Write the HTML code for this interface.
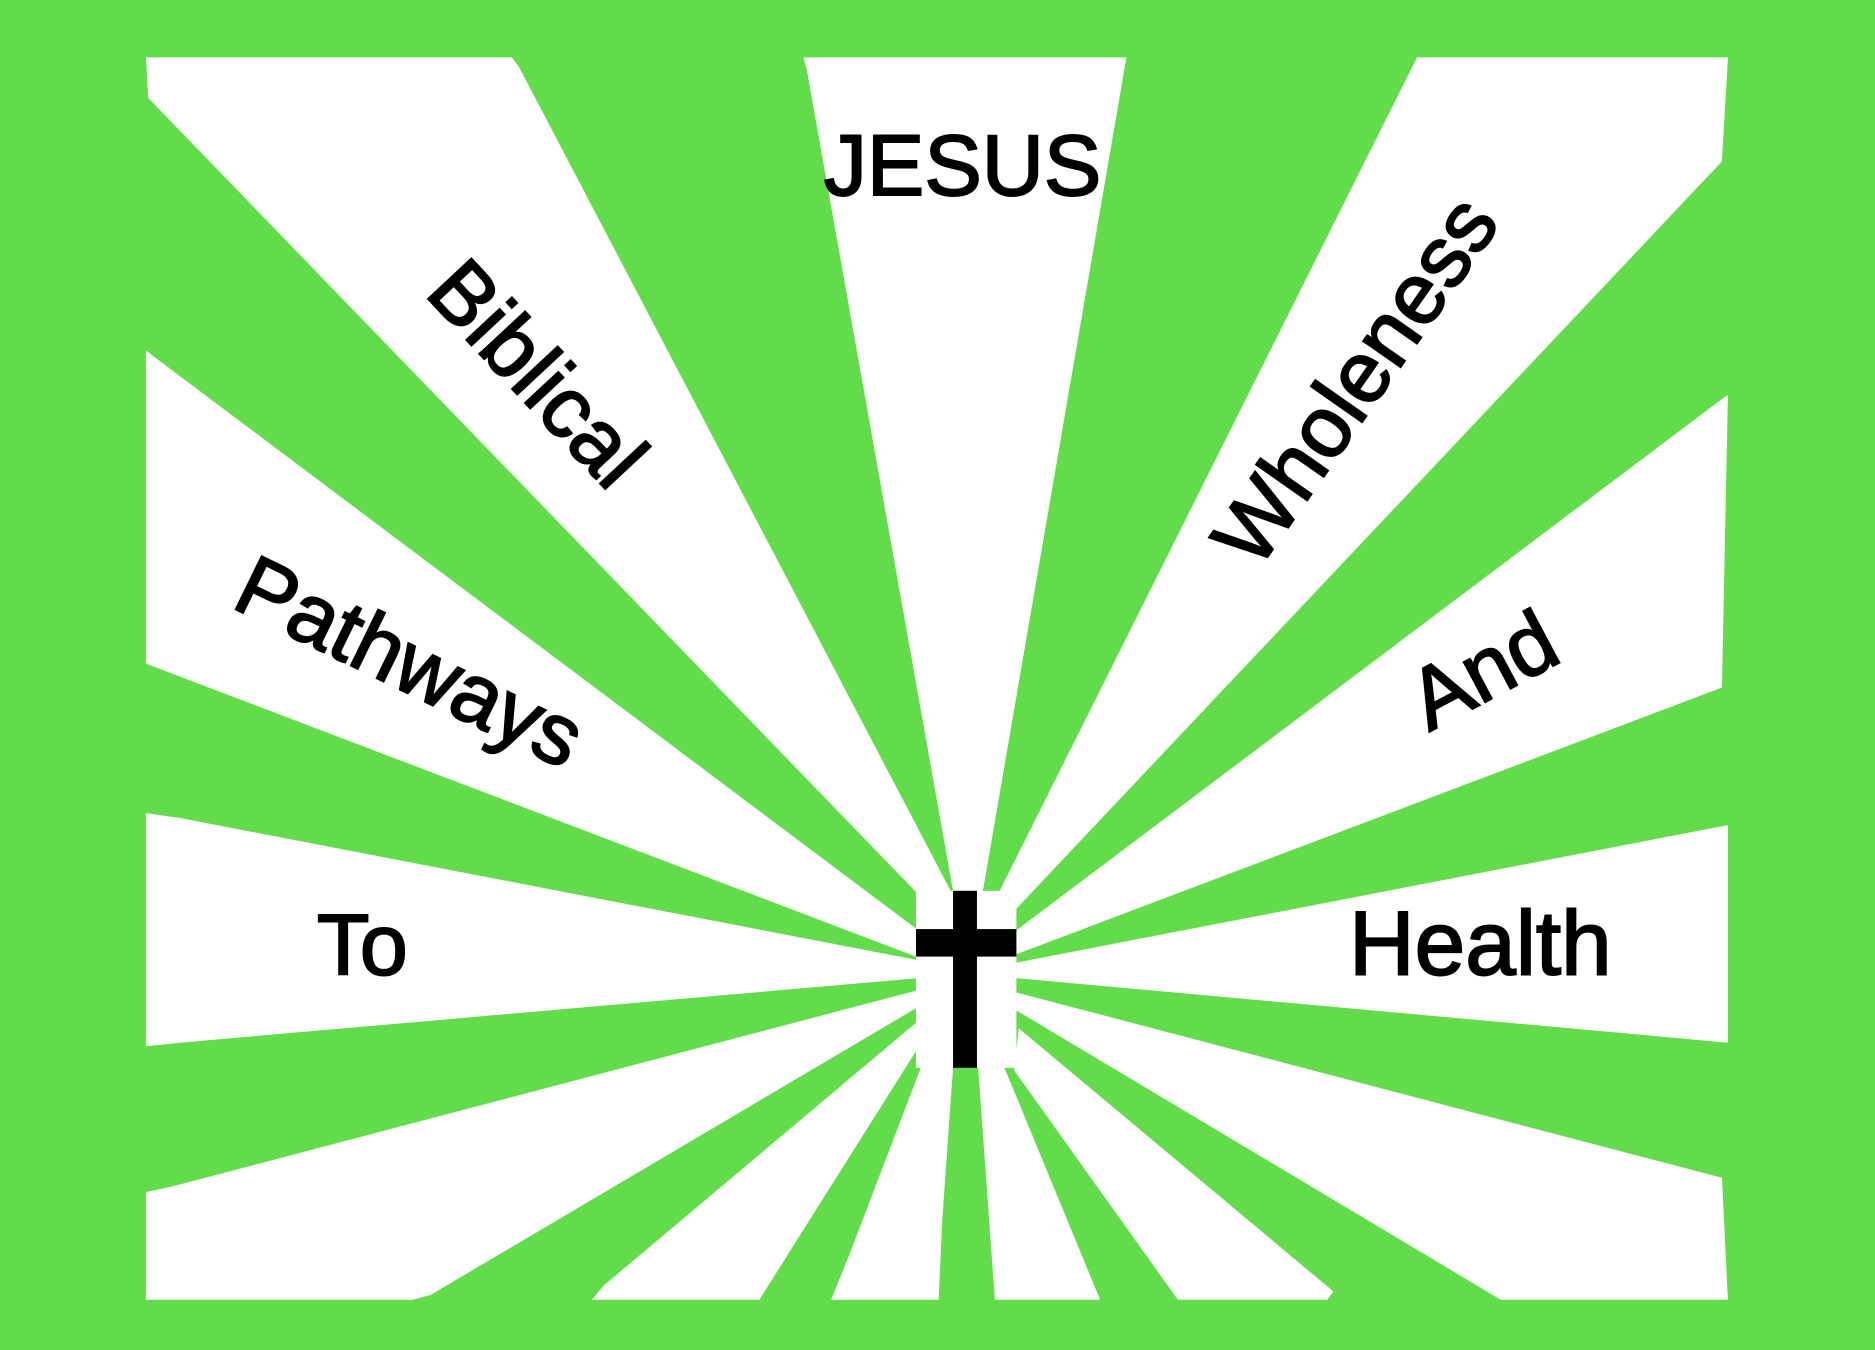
<!DOCTYPE html>
<html><head><meta charset="utf-8"><style>
html,body{margin:0;padding:0;background:#62dc4a;}
svg{display:block}
text{font-family:"Liberation Sans",sans-serif;fill:#000;stroke:#000;stroke-width:1.6px;}
</style></head><body>
<svg width="1875" height="1350" viewBox="0 0 1568 1129" preserveAspectRatio="none">
<rect width="1568" height="1129" fill="#62dc4a"/>
<g fill="#fff">
<polygon points="122,48 428,48 434,56 795,745 768,748 124,82"/>
<polygon points="122,293 135,303 768,778 766,800 122,555"/>
<polygon points="122,680 150,684 768,803 768,818 150,872 122,875"/>
<polygon points="122,997 145,992 768,828 768,842 360,1083 345,1087 122,1087"/>
<polygon points="495,1087 505,1075 770,852 778,860 635,1087"/>
<polygon points="695,1087 710,1050 775,880 797,893 788,1020 785,1087"/>
<polygon points="832,1087 818,893 840,893 920,1087"/>
<polygon points="985,1087 848,895 852,860 1115,1080 1110,1087"/>
<polygon points="1255,1087 850,845 850,830 1440,985 1445,1087"/>
<polygon points="850,818 1445,872 1445,690 850,805"/>
<polygon points="850,798 1440,575 1445,330 1425,345 850,778"/>
<polygon points="848,762 1440,135 1445,48 1185,48 836,745"/>
<polygon points="672,48 942,48 822,745 797,745 675,60"/>
<rect x="766" y="745" width="84" height="148"/>
</g>
<rect x="797" y="745" width="20" height="148" fill="#000"/>
<rect x="766" y="777" width="84" height="23" fill="#000"/>
<g font-size="72">
<text x="805" y="163" text-anchor="middle">JESUS</text>
<text x="303" y="815" text-anchor="middle">To</text>
<text x="1238" y="815" text-anchor="middle" font-size="76">Health</text>
<text transform="translate(450,312) rotate(47)" text-anchor="middle" dy="25">Biblical</text>
<text transform="translate(343,553) rotate(26)" text-anchor="middle" dy="25">Pathways</text>
<text transform="translate(1133,318) rotate(-55)" text-anchor="middle" dy="25">Wholeness</text>
<text transform="translate(1240,560) rotate(-28)" text-anchor="middle" dy="25">And</text>
</g>
</svg>
</body></html>
